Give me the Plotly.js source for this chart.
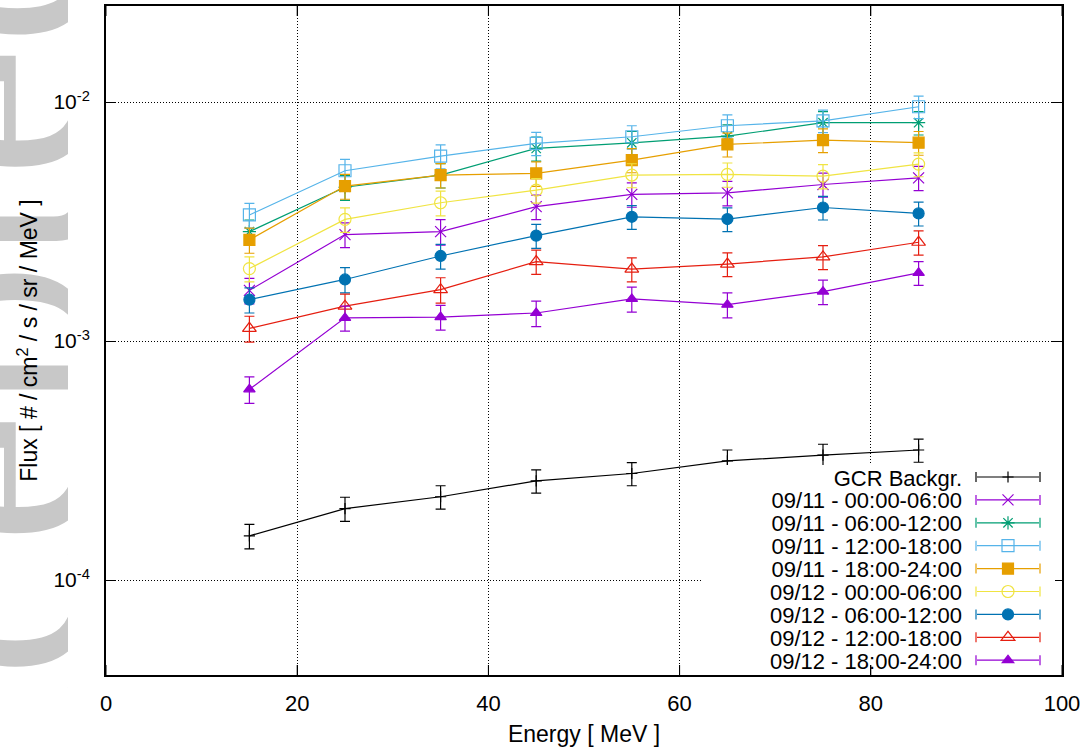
<!DOCTYPE html>
<html>
<head>
<meta charset="utf-8">
<script src="https://cdn.plot.ly/plotly-3.0.1.min.js"></script>
<style>html,body{margin:0;padding:0;background:#fff;}#chart{width:1092px;height:748px;}</style>
</head>
<body>
<div id="chart"></div>
<script>
// Energy bins (MeV)
const energy = [15, 25, 35, 45, 55, 65, 75, 85];

// Series names (legend order)
const seriesNames = [
  "GCR Backgr.",
  "09/11 - 00:00-06:00",
  "09/11 - 06:00-12:00",
  "09/11 - 12:00-18:00",
  "09/11 - 18:00-24:00",
  "09/12 - 00:00-06:00",
  "09/12 - 06:00-12:00",
  "09/12 - 12:00-18:00",
  "09/12 - 18:00-24:00"
];

// Flux values [# / cm2 / s / sr / MeV]
const gcr      = [1.53e-4, 1.99e-4, 2.23e-4, 2.60e-4, 2.79e-4, 3.15e-4, 3.33e-4, 3.50e-4];
const d11_0006 = [1.63e-3, 2.79e-3, 2.87e-3, 3.65e-3, 4.11e-3, 4.17e-3, 4.52e-3, 4.82e-3];
const d11_0612 = [2.87e-3, 4.40e-3, 4.95e-3, 6.40e-3, 6.75e-3, 7.20e-3, 8.20e-3, 8.20e-3];
const d11_1218 = [3.37e-3, 5.16e-3, 5.94e-3, 6.72e-3, 7.16e-3, 7.96e-3, 8.35e-3, 9.56e-3];
const d11_1824 = [2.65e-3, 4.45e-3, 4.95e-3, 5.03e-3, 5.72e-3, 6.65e-3, 6.93e-3, 6.76e-3];
const d12_0006 = [2.01e-3, 3.23e-3, 3.79e-3, 4.28e-3, 4.95e-3, 4.98e-3, 4.90e-3, 5.50e-3];
const d12_0612 = [1.49e-3, 1.81e-3, 2.27e-3, 2.76e-3, 3.31e-3, 3.24e-3, 3.62e-3, 3.42e-3];
const d12_1218 = [1.13e-3, 1.40e-3, 1.64e-3, 2.15e-3, 2.00e-3, 2.10e-3, 2.25e-3, 2.59e-3];
const d12_1824 = [6.28e-4, 1.25e-3, 1.26e-3, 1.31e-3, 1.50e-3, 1.42e-3, 1.61e-3, 1.93e-3];

// Errors
const gcrErr      = [0.18e-4, 0.23e-4, 0.25e-4, 0.29e-4, 0.31e-4, 0.35e-4, 0.37e-4, 0.39e-4];
const d11_0006Err = [0.20e-3, 0.33e-3, 0.35e-3, 0.43e-3, 0.48e-3, 0.49e-3, 0.52e-3, 0.56e-3];
const d11_0612Err = [0.34e-3, 0.52e-3, 0.58e-3, 0.74e-3, 0.78e-3, 0.83e-3, 0.92e-3, 0.92e-3];
const d11_1218Err = [0.40e-3, 0.60e-3, 0.68e-3, 0.75e-3, 0.80e-3, 0.88e-3, 0.90e-3, 1.03e-3];
const d11_1824Err = [0.32e-3, 0.53e-3, 0.58e-3, 0.59e-3, 0.66e-3, 0.76e-3, 0.79e-3, 0.77e-3];
const d12_0006Err = [0.24e-3, 0.38e-3, 0.45e-3, 0.50e-3, 0.57e-3, 0.58e-3, 0.57e-3, 0.63e-3];
const d12_0612Err = [0.18e-3, 0.22e-3, 0.27e-3, 0.32e-3, 0.38e-3, 0.37e-3, 0.41e-3, 0.39e-3];
const d12_1218Err = [0.14e-3, 0.17e-3, 0.20e-3, 0.25e-3, 0.23e-3, 0.24e-3, 0.26e-3, 0.30e-3];
const d12_1824Err = [0.08e-3, 0.15e-3, 0.15e-3, 0.16e-3, 0.18e-3, 0.17e-3, 0.19e-3, 0.22e-3];

// Tick labels / tick values
const xTickVals = [0, 20, 40, 60, 80, 100];
const yTickVals = [1e-4, 1e-3, 1e-2];
const yTickText = ["10<sup>-4</sup>", "10<sup>-3</sup>", "10<sup>-2</sup>"];
const yMinorTickVals = [5e-5, 6e-5, 7e-5, 8e-5, 9e-5,
                        2e-4, 3e-4, 4e-4, 5e-4, 6e-4, 7e-4, 8e-4, 9e-4,
                        2e-3, 3e-3, 4e-3, 5e-3, 6e-3, 7e-3, 8e-3, 9e-3,
                        2e-2];

const values = [gcr, d11_0006, d11_0612, d11_1218, d11_1824, d12_0006, d12_0612, d12_1218, d12_1824];
const errors = [gcrErr, d11_0006Err, d11_0612Err, d11_1218Err, d11_1824Err, d12_0006Err, d12_0612Err, d12_1218Err, d12_1824Err];

const styles = [
  {color: "#000000", symbol: "cross-thin", size: 8},
  {color: "#9400d3", symbol: "x-thin-open", size: 11},
  {color: "#009e73", symbol: "asterisk-open", size: 11},
  {color: "#56b4e9", symbol: "square-open", size: 12},
  {color: "#e69f00", symbol: "square", size: 11},
  {color: "#f0e442", symbol: "circle-open", size: 12},
  {color: "#0072b2", symbol: "circle", size: 11},
  {color: "#e51e10", symbol: "triangle-up-open", size: 12},
  {color: "#9400d3", symbol: "triangle-up", size: 10}
];

const traces = values.map((v, i) => ({
  type: "scatter",
  mode: "lines+markers",
  name: seriesNames[i],
  x: energy,
  y: v,
  line: {color: styles[i].color, width: 1.2},
  marker: {symbol: styles[i].symbol, size: styles[i].size, color: styles[i].color,
           line: {color: styles[i].color, width: 1.2}},
  error_y: {type: "data", array: errors[i], visible: true, color: styles[i].color, thickness: 1.2, width: 5}
}));

// Geometry of the figure
const W = 1092, H = 748, L = 106, R = 1062, T = 6, B = 675;
const pw = R - L, ph = B - T;

// Tick marks (inside, mirrored) as axis-referenced shapes
const tickShapes = [];
const tickLine = {color: "#000", width: 1};
yMinorTickVals.forEach(v => {
  const yl = Math.log10(v);
  tickShapes.push({type: "line", xref: "paper", yref: "y", x0: 0, x1: 5 / pw, y0: yl, y1: yl, line: tickLine});
  tickShapes.push({type: "line", xref: "paper", yref: "y", x0: 1 - 5 / pw, x1: 1, y0: yl, y1: yl, line: tickLine});
});
yTickVals.forEach(v => {
  const yl = Math.log10(v);
  tickShapes.push({type: "line", xref: "paper", yref: "y", x0: 0, x1: 10 / pw, y0: yl, y1: yl, line: tickLine});
  tickShapes.push({type: "line", xref: "paper", yref: "y", x0: 1 - 10 / pw, x1: 1, y0: yl, y1: yl, line: tickLine});
});
xTickVals.forEach(v => {
  tickShapes.push({type: "line", xref: "x", yref: "paper", x0: v, x1: v, y0: 0, y1: 10 / ph, line: tickLine});
  tickShapes.push({type: "line", xref: "x", yref: "paper", x0: v, x1: v, y0: 1 - 10 / ph, y1: 1, line: tickLine});
});

// Watermark as a background SVG image (clipped at the left margin)
const svg = '<svg xmlns="http://www.w3.org/2000/svg" width="' + W + '" height="' + H + '">' +
  '<defs><clipPath id="c"><rect x="0" y="0" width="68" height="' + H + '"/></clipPath></defs>' +
  '<g clip-path="url(#c)"><text transform="translate(85,1028) rotate(-90)" font-family="Liberation Serif, Times New Roman, serif" font-size="300" fill="#c8c8c8">Accepted Article</text></g></svg>';
const svgUrl = "data:image/svg+xml;charset=utf-8," + encodeURIComponent(svg);

const fontFam = "Liberation Sans, Arial, sans-serif";
const xTickFont = {family: fontFam, size: 22, color: "#000"};
const yTickFont = {family: fontFam, size: 21, color: "#000"};
const titleFont = {family: fontFam, size: 23, color: "#000"};
const gridDash = "1px,2px";

const layout = {
  width: W, height: H,
  margin: {l: L, r: W - R, t: T, b: H - B, pad: 0},
  paper_bgcolor: "#ffffff",
  plot_bgcolor: "rgba(0,0,0,0)",
  font: {family: fontFam, size: 18, color: "#000"},
  showlegend: true,
  legend: {
    x: 1, xanchor: "right", y: 0, yanchor: "bottom",
    bgcolor: "#ffffff", borderwidth: 0,
    font: {family: fontFam, size: 22, color: "#000"},
    itemwidth: 62, tracegroupgap: 0
  },
  xaxis: {
    range: [0, 100], tickmode: "array", tickvals: xTickVals,
    ticks: "inside", ticklen: 10, tickwidth: 1, tickcolor: "#000",
    showline: true, linecolor: "#000", linewidth: 2, mirror: "allticks",
    showgrid: true, gridcolor: "#000", griddash: gridDash, gridwidth: 1,
    zeroline: false, ticklabelstandoff: 8,
    tickfont: xTickFont,
    title: {text: "Energy [ MeV ]", font: titleFont, standoff: 10}
  },
  yaxis: {
    type: "log", range: [-4.3975, -1.598],
    tickmode: "array", tickvals: yTickVals, ticktext: yTickText,
    ticks: "inside", ticklen: 10, tickwidth: 1, tickcolor: "#000",
    showline: true, linecolor: "#000", linewidth: 2, mirror: "allticks",
    showgrid: true, gridcolor: "#000", griddash: gridDash, gridwidth: 1,
    zeroline: false, ticklabelstandoff: 10,
    tickfont: yTickFont,
    title: {text: "Flux [ # / cm<sup>2</sup> / s / sr / MeV ]", font: titleFont, standoff: 9}
  },
  shapes: tickShapes,
  images: [{
    source: svgUrl, xref: "paper", yref: "paper",
    x: -L / pw, y: B / ph, sizex: W / pw, sizey: H / ph,
    xanchor: "left", yanchor: "top", sizing: "stretch", layer: "below"
  }]
};

// Gnuplot-style key: text right-aligned, sample to its right, tight rows
const key = {textRight: 962, sampleLeft: 976, sampleRight: 1040, firstRow: 477, rowStep: 22.9,
             boxLeft: 702, boxRight: 1055, boxTop: 465, boxBottom: 664};

const gd = document.getElementById("chart");
Plotly.newPlot(gd, traces, layout, {displayModeBar: false, staticPlot: true}).then(() => {
  const leg = gd.querySelector("g.legend");
  if (!leg) return;
  const m = /translate\(\s*([-\d.eE]+)[ ,]+([-\d.eE]+)\s*\)/.exec(leg.getAttribute("transform") || "");
  const lx = m ? parseFloat(m[1]) : 0, ly = m ? parseFloat(m[2]) : 0;
  const sb = leg.querySelector("g.scrollbox");
  if (sb) { sb.removeAttribute("clip-path"); sb.setAttribute("transform", "translate(0,0)"); }
  leg.querySelectorAll("g.groups").forEach(g => g.removeAttribute("transform"));
  leg.querySelectorAll("rect.scrollbar").forEach(r => r.remove());
  const bg = leg.querySelector("rect.bg");
  if (bg) {
    bg.setAttribute("x", key.boxLeft - lx);
    bg.setAttribute("y", key.boxTop - ly);
    bg.setAttribute("width", key.boxRight - key.boxLeft);
    bg.setAttribute("height", key.boxBottom - key.boxTop);
  }
  const center = (key.sampleLeft + key.sampleRight) / 2;
  leg.querySelectorAll("g.traces").forEach((it, i) => {
    it.setAttribute("transform", "translate(0," + (key.firstRow + i * key.rowStep - ly) + ")");
    const t = it.querySelector("text.legendtext");
    if (t) {
      t.setAttribute("x", key.textRight - lx);
      t.setAttribute("text-anchor", "end");
      t.style.textAnchor = "end";
      t.querySelectorAll("tspan").forEach(ts => { if (ts.hasAttribute("x")) ts.setAttribute("x", key.textRight - lx); });
    }
    const lay = it.querySelector("g.layers");
    if (lay) {
      const bb = lay.getBBox();
      const dx = (center - lx) - (bb.x + bb.width / 2);
      lay.setAttribute("transform", "translate(" + dx + ",0)");
    }
    // error-bar caps at both ends of the key sample, like the plotted error bars
    if (i < styles.length) {
      const cap = document.createElementNS("http://www.w3.org/2000/svg", "path");
      const xa = key.sampleLeft - lx, xb = key.sampleRight - lx;
      cap.setAttribute("d", "M" + xa + ",-5v10M" + xb + ",-5v10");
      cap.setAttribute("stroke", styles[i].color);
      cap.setAttribute("stroke-width", "1.2");
      cap.setAttribute("fill", "none");
      it.appendChild(cap);
    }
    const tog = it.querySelector("rect.legendtoggle");
    if (tog) tog.remove();
  });
});
</script>
</body>
</html>
